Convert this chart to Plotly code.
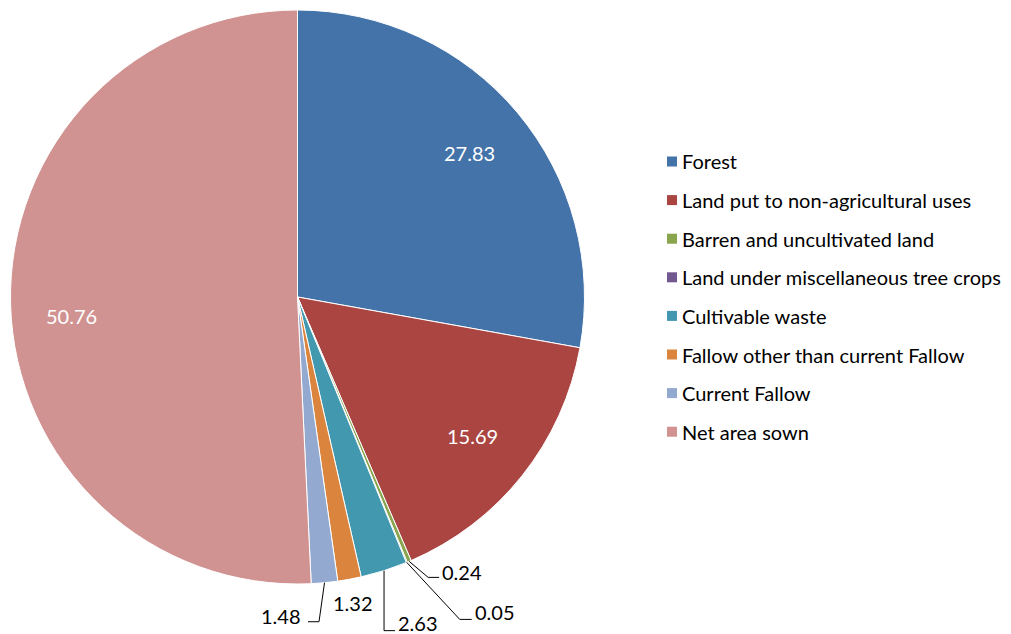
import math
import plotly.graph_objects as go

W, H = 1011, 634

categories = [
    "Forest",
    "Land put to non-agricultural uses",
    "Barren and uncultivated land",
    "Land under miscellaneous tree crops",
    "Cultivable waste",
    "Fallow other than current Fallow",
    "Current Fallow",
    "Net area sown",
]
values = [27.83, 15.69, 0.24, 0.05, 2.63, 1.32, 1.48, 50.76]
value_labels = ["27.83", "15.69", "0.24", "0.05", "2.63", "1.32", "1.48", "50.76"]
colors = ["#4373A9", "#AA4542", "#89A54E", "#71588F", "#4198AF", "#DB843D", "#93A9CF", "#D09392"]

# layout geometry (pixels)
CX, CY, R = 297.5, 297.0, 287.0
FONT = "Lato"
FS = 20

def px(x):
    return x / W

def py(y):
    return 1 - y / H

fig = go.Figure(go.Pie(
    labels=categories,
    values=values,
    sort=False,
    direction="clockwise",
    rotation=0,
    marker=dict(colors=colors, line=dict(color="white", width=1)),
    textinfo="none",
    hoverinfo="label+value",
    showlegend=False,
    domain=dict(x=[px(CX - R), px(CX + R)], y=[py(CY + R), py(CY - R)]),
))

total = sum(values)
mids = []
cum = 0.0
for v in values:
    mids.append((cum + v / 2) / total * 2 * math.pi)
    cum += v

def polar(frac, ang):
    return CX + frac * R * math.sin(ang), CY - frac * R * math.cos(ang)

annotations = []
shapes = []

# inside labels (style: placed at 0.78 R, white) with small nudges
inside = {0: (0, 0), 1: (0, 0), 7: (-2.5, 14)}
for i, (ndx, ndy) in inside.items():
    x, y = polar(0.78, mids[i])
    annotations.append(dict(x=px(x + ndx), y=py(y + ndy), xref="paper", yref="paper",
                            text=value_labels[i], showarrow=False,
                            font=dict(family=FONT, size=FS, color="white"),
                            xanchor="center", yanchor="middle"))

# outside labels: (elbow dx, dy, horizontal seg, text gap, text dy) relative to slice edge
outside = {
    2: (19, 16, 11, 1, -5),
    3: (53, 57, 12, 1, -7),
    4: (0, 60, 11, 1, -8),
    6: (-5.5, 39, -11, -5, -6),
}
for i, (edx, edy, seg, gap, tdy) in outside.items():
    x0, y0 = polar(1.0, mids[i])
    x1, y1 = x0 + edx, y0 + edy
    x2 = x1 + seg
    path = f"M {px(x0)} {py(y0)} L {px(x1)} {py(y1)} L {px(x2)} {py(y1)}"
    shapes.append(dict(type="path", path=path, xref="paper", yref="paper",
                       line=dict(color="black", width=1)))
    annotations.append(dict(x=px(x2 + gap), y=py(y1 + tdy), xref="paper", yref="paper",
                            text=value_labels[i], showarrow=False,
                            font=dict(family=FONT, size=FS, color="black"),
                            xanchor="left" if seg > 0 else "right", yanchor="middle"))

# label without leader line
x0, y0 = polar(1.0, mids[5])
annotations.append(dict(x=px(x0 + 3.5), y=py(y0 + 24), xref="paper", yref="paper",
                        text=value_labels[5], showarrow=False,
                        font=dict(family=FONT, size=FS, color="black"),
                        xanchor="center", yanchor="middle"))

# manual legend
LX, LY0, LDY, SQ = 667, 161.5, 38.6, 10
for k, (name, col) in enumerate(zip(categories, colors)):
    yc = LY0 + k * LDY
    shapes.append(dict(type="rect", xref="paper", yref="paper",
                       x0=px(LX), x1=px(LX + SQ), y0=py(yc + SQ / 2), y1=py(yc - SQ / 2),
                       fillcolor=col, line=dict(width=0)))
    annotations.append(dict(x=px(LX + SQ + 3), y=py(yc), xref="paper", yref="paper",
                            text=name, showarrow=False,
                            font=dict(family=FONT, size=20, color="black"),
                            xanchor="left", yanchor="middle"))

fig.update_layout(
    width=W, height=H,
    margin=dict(l=0, r=0, t=0, b=0),
    paper_bgcolor="white", plot_bgcolor="white",
    annotations=annotations, shapes=shapes,
    showlegend=False,
)

fig.write_html("out.html", config={"displayModeBar": False},
               post_script="document.body.style.margin='0';document.body.style.overflow='hidden';")
